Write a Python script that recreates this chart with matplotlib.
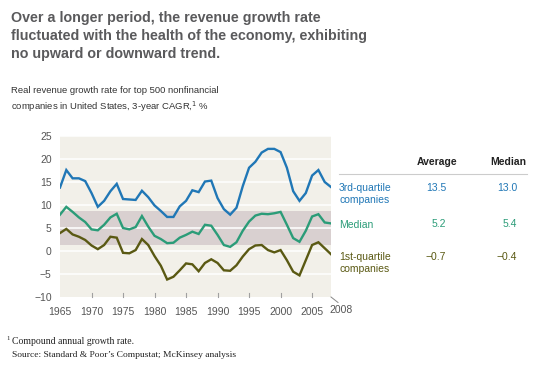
import matplotlib
matplotlib.use("Agg")
import matplotlib.pyplot as plt
from matplotlib.lines import Line2D

years = list(range(1965, 2009))
third_quartile = [13.8, 17.6, 15.8, 15.8, 15.2, 12.6, 9.6, 10.9, 13.0, 14.6, 11.3, 11.2, 11.1, 13.1,
                  11.7, 9.9, 8.7, 7.4, 7.4, 9.7, 10.9, 13.2, 12.8, 15.1, 15.3, 11.5, 9.1, 7.9,
                  9.4, 14.1, 18.1, 19.4, 21.4, 22.2, 22.2, 21.5, 18.1, 13.0, 10.9, 12.6, 16.4,
                  17.6, 15.0, 13.9]
median = [7.9, 9.6, 8.5, 7.3, 6.3, 4.7, 4.5, 5.7, 7.3, 8.1, 5.0, 4.7, 5.2, 7.6,
          5.3, 3.3, 2.6, 1.7, 1.8, 2.9, 3.5, 4.2, 3.7, 5.7, 5.5, 3.5, 1.3, 0.9,
          1.9, 4.4, 6.4, 7.7, 8.1, 8.0, 8.2, 8.5, 5.7, 2.8, 2.0, 4.4, 7.5,
          8.0, 6.2, 6.0]
first_quartile = [3.9, 4.8, 3.6, 3.1, 2.4, 1.2, 0.4, 1.3, 3.1, 2.9, -0.4, -0.5, 0.2, 2.6,
                  1.3, -1.1, -3.2, -6.2, -5.6, -4.2, -2.7, -2.9, -4.4, -2.6, -1.8, -2.6, -4.2, -4.3,
                  -3.1, -1.2, 0.4, 1.2, 1.3, 0.2, -0.3, 0.2, -2.0, -4.5, -5.3, -2.0, 1.3,
                  1.9, 0.6, -0.7]
band_range = (1.3, 8.7)
yticks = [-10, -5, 0, 5, 10, 15, 20, 25]
xticks = [1965, 1970, 1975, 1980, 1985, 1990, 1995, 2000, 2005]
row_labels = ["3rd-quartile\ncompanies", "Median", "1st-quartile\ncompanies"]
averages = ["13.5", "5.2", "\u22120.7"]
medians = ["13.0", "5.4", "\u22120.4"]

BLUE = "#2077b6"
GREEN = "#2b9c78"
OLIVE = "#5a5913"
GRAY = "#555555"
FONT = "Liberation Sans"

W, H = 545, 371
fig = plt.figure(figsize=(W / 100, H / 100), dpi=100)
fig.patch.set_facecolor("white")

def fx(px):
    return px / W

def fy(py):
    return 1 - py / H

ax = fig.add_axes([fx(60), fy(297), fx(331) - fx(60), fy(136) - fy(297)])
ax.set_facecolor("#f2f0e9")
ax.set_xlim(1965, 2008)
ax.set_ylim(-10, 25)
ax.axhspan(band_range[0], band_range[1], color="#d9d0d0", zorder=1, lw=0)
for v in yticks[1:]:
    ax.axhline(v, color="white", lw=1.1, zorder=2)
ax.plot(years, third_quartile, color=BLUE, lw=1.7, zorder=3, solid_joinstyle="miter")
ax.plot(years, median, color=GREEN, lw=1.7, zorder=3, solid_joinstyle="miter")
ax.plot(years, first_quartile, color=OLIVE, lw=1.7, zorder=3, solid_joinstyle="miter")

for s in ax.spines.values():
    s.set_visible(False)
ax.set_yticks(yticks)
ax.set_yticklabels([("\u2212" + str(-v)) if v < 0 else str(v) for v in yticks],
                   fontsize=7.5, color=GRAY, family=FONT)
ax.tick_params(axis="y", length=0, pad=6)
ax.set_xticks(xticks)
ax.set_xticklabels([str(v) for v in xticks], fontsize=7.5, color=GRAY, family=FONT)
ax.tick_params(axis="x", length=0, pad=7)
for v in xticks[1:]:
    ax.plot([v, v], [-10, -9.1], color="#a0a0a0", lw=0.8, zorder=2, clip_on=False)

# 2008 label with leader
fig.add_artist(Line2D([fx(331), fx(338)], [fy(297), fy(302.5)], color="#888888", lw=0.7))
fig.text(fx(341), fy(310), "2008", fontsize=7.5, color=GRAY, family=FONT, ha="center", va="center")

# Title
fig.text(fx(11), fy(11), "Over a longer period, the revenue growth rate\n"
         "fluctuated with the health of the economy, exhibiting\n"
         "no upward or downward trend.",
         fontsize=10.3, fontweight="bold", color="#5a5a5c", family=FONT,
         ha="left", va="top", linespacing=1.38)
fig.text(fx(11), fy(86), "Real revenue growth rate for top 500 nonfinancial\n"
         "companies in United States, 3-year CAGR,$^{1}$ %",
         fontsize=6.8, color="#333333", family=FONT, ha="left", va="top", linespacing=1.45)

# Table
fig.text(fx(437), fy(162), "Average", fontsize=7.5, fontweight="bold", color="#222222",
         family=FONT, ha="center", va="center")
fig.text(fx(508), fy(162), "Median", fontsize=7.5, fontweight="bold", color="#222222",
         family=FONT, ha="center", va="center")
fig.add_artist(Line2D([fx(339), fx(527)], [fy(174), fy(174)], color="#cccccc", lw=0.8))
row_y = [188, 224.5, 256.5]
row_colors = [BLUE, GREEN, OLIVE]
for lab, a, m, y, c in zip(row_labels, averages, medians, row_y, row_colors):
    fig.text(fx(339), fy(y - 5), lab, fontsize=7.5, color=c, family=FONT,
             ha="left", va="top", linespacing=1.25)
    fig.text(fx(446), fy(y), a, fontsize=7.5, color=c, family=FONT, ha="right", va="center")
    fig.text(fx(517), fy(y), m, fontsize=7.5, color=c, family=FONT, ha="right", va="center")

# Footnotes
fig.text(fx(6), fy(339), "1", fontsize=4.8, color="#222222", family="Liberation Serif",
         ha="left", va="center")
fig.text(fx(12), fy(341), "Compound annual growth rate.", fontsize=7, color="#222222",
         family="Liberation Serif", ha="left", va="center")
fig.text(fx(12), fy(355), "Source: Standard & Poor\u2019s Compustat; McKinsey analysis", fontsize=6.8,
         color="#222222", family="Liberation Serif", ha="left", va="center")

fig.savefig("out.png", dpi=100)
